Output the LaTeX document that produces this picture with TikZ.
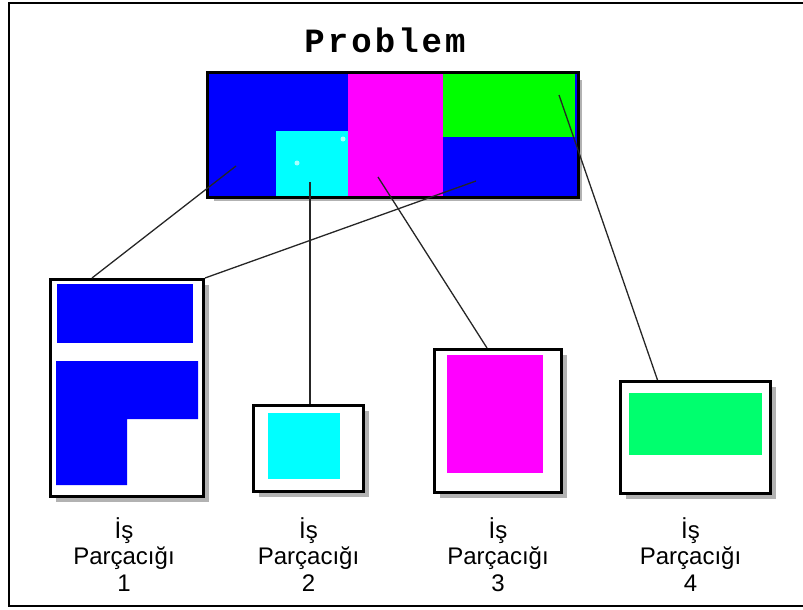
\documentclass[tikz,border=0pt]{standalone}
\usepackage{fontspec}
\setmainfont{Liberation Sans}
\newfontfamily\titlefont[LetterSpace=9]{Liberation Mono}
\newfontfamily\labelfont{Liberation Sans}
\usetikzlibrary{calc, shadows}

\definecolor{partblue}{RGB}{0,0,255}
\definecolor{partcyan}{RGB}{0,255,255}
\definecolor{partmagenta}{RGB}{255,0,255}
\definecolor{partgreen}{RGB}{0,255,0}
\definecolor{partspring}{RGB}{0,255,110}

\begin{document}
\begin{tikzpicture}
    [x=1pt, y=-1pt,
    boxframe/.style={rectangle, draw=black, line width=3pt, fill=white, inner sep=0pt,
        drop shadow={shadow xshift=5pt, shadow yshift=-5pt, fill=black, opacity=0.3}},
    threadlabel/.style={anchor=north, align=center, inner sep=0pt,
        font=\labelfont\fontsize{24}{26.5}\selectfont},
    link/.style={draw=black!85, line width=1.3pt},]

    \useasboundingbox (0,0) rectangle (803,610);
    \draw[line width=2pt] (9,3) rectangle (812,606);

    %Title
    \node(title)[font=\titlefont\bfseries\fontsize{34}{34}\selectfont] at (385,40) {Problem};

    %Problem
    \node[boxframe, minimum width=368, minimum height=121](prob) at (392.5,135) {};
    \fill[partblue] (prob.north west) rectangle (prob.south east);
    \fill[partcyan] (276,131) rectangle (348,195.5);
    \fill[partmagenta] (348,74.5) rectangle (443,195.5);
    \fill[partgreen] (443,74.5) rectangle (575,137);
    \fill[white!65!partcyan] (343,139) circle (2.5) (297,163) circle (2.5);
    \draw[line width=3pt] (prob.north west) rectangle (prob.south east);

    %Threads
    \node[boxframe, minimum width=153, minimum height=217](t1) at (127,388) {};
    \node[boxframe, minimum width=110, minimum height=86](t2) at (308.5,448.5) {};
    \node[boxframe, minimum width=127, minimum height=143](t3) at (498,421) {};
    \node[boxframe, minimum width=150, minimum height=112](t4) at (695.5,437.5) {};

    %Pieces
    \fill[partblue] (57,284) rectangle (193,343);
    \fill[partblue] (56,361) -- (198,361) -- (198,419) -- (127,419) -- (127,485) -- (56,485) -- cycle;
    \fill[partcyan] (268,413) rectangle (340,479);
    \fill[partmagenta] (447,355) rectangle (543,473);
    \fill[partspring] (629,393) rectangle (762,455);

    %Labels
    \coordinate(lrow) at (0,517);
    \node(l1)[threadlabel] at ([xshift=-3pt]t1.south |- lrow) {İş\\Parçacığı\\1};
    \node(l2)[threadlabel] at (t2.south |- lrow) {İş\\Parçacığı\\2};
    \node(l3)[threadlabel] at (t3.south |- lrow) {İş\\Parçacığı\\3};
    \node(l4)[threadlabel] at ([xshift=-5pt]t4.south |- lrow) {İş\\Parçacığı\\4};

    %Lines
    \coordinate(inblue) at (236,166);
    \coordinate(inblueb) at (476,181);
    \coordinate(incyan) at (310,182);
    \coordinate(inmagenta) at (378,177);
    \coordinate(ingreen) at (559,95);
    \draw[link] (inblue) -- ([xshift=43pt]t1.north west);
    \draw[link] (inblueb) -- (t1.north east);
    \draw[link] (incyan) -- (incyan |- t2.north);
    \draw[link] (inmagenta) -- ([xshift=-11pt]t3.north);
    \draw[link] (ingreen) -- ([xshift=-38pt]t4.north);

\end{tikzpicture}
\end{document}
